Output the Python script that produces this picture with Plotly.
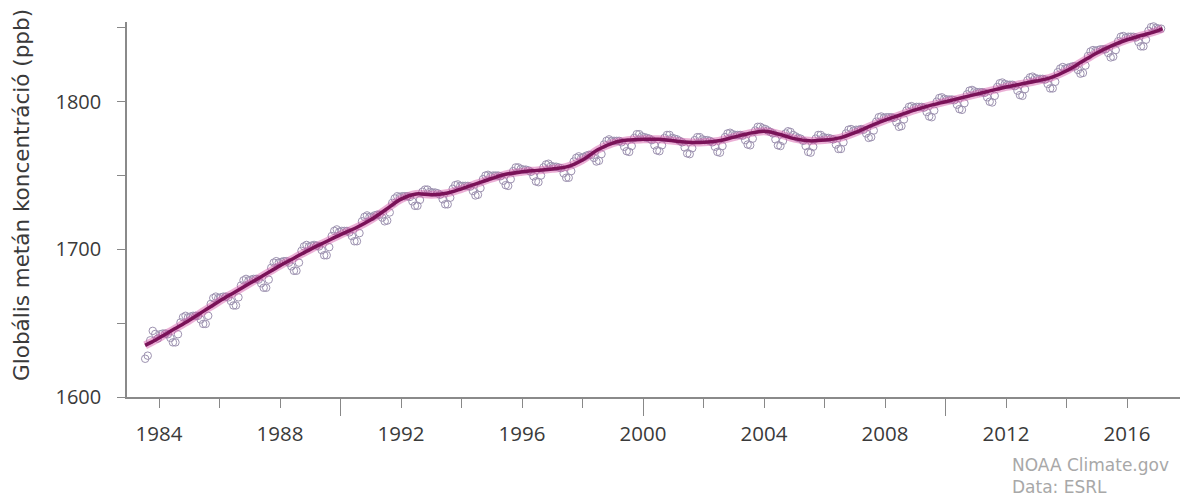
import plotly.graph_objects as go

# ---------------- data ----------------
row_years = list(range(1983, 2018))
# monthly global CH4 means (ppb), Jan..Dec for each year in row_years
monthly_rows = [
    [None, None, None, None, None, None, 1625.9, 1628.0, 1638.4, 1644.8, 1642.7, 1639.6],  # 1983
    [1642.5, 1643.0, 1643.0, 1642.5, 1640.0, 1637.0, 1637.0, 1642.5, 1650.5, 1654.0, 1655.0, 1654.0],  # 1984
    [1654.5, 1655.0, 1655.0, 1655.0, 1652.5, 1649.5, 1649.5, 1655.0, 1663.0, 1667.0, 1668.0, 1667.0],  # 1985
    [1667.5, 1668.0, 1668.0, 1667.5, 1665.0, 1662.0, 1662.0, 1667.5, 1675.5, 1679.0, 1680.0, 1679.0],  # 1986
    [1679.5, 1680.0, 1680.0, 1679.5, 1677.0, 1674.0, 1674.0, 1679.5, 1687.5, 1691.0, 1692.0, 1691.0],  # 1987
    [1691.5, 1692.0, 1692.0, 1691.0, 1688.5, 1685.5, 1685.5, 1691.0, 1699.0, 1702.0, 1703.0, 1702.0],  # 1988
    [1702.5, 1703.0, 1702.5, 1702.0, 1699.5, 1696.0, 1696.0, 1701.5, 1709.0, 1712.5, 1713.5, 1712.0],  # 1989
    [1712.5, 1712.5, 1712.5, 1711.5, 1709.0, 1705.5, 1705.5, 1711.0, 1719.0, 1722.0, 1723.0, 1722.0],  # 1990
    [1722.0, 1723.0, 1723.5, 1723.5, 1721.5, 1719.0, 1719.5, 1725.0, 1731.5, 1734.5, 1736.0, 1735.5],  # 1991
    [1736.0, 1736.0, 1736.0, 1735.5, 1732.5, 1729.5, 1729.5, 1733.5, 1739.0, 1740.5, 1740.5, 1739.0],  # 1992
    [1738.5, 1738.5, 1738.0, 1737.0, 1734.0, 1730.5, 1730.5, 1735.0, 1741.0, 1743.5, 1744.0, 1743.0],  # 1993
    [1743.0, 1743.0, 1743.0, 1742.5, 1739.5, 1736.5, 1737.0, 1741.5, 1747.5, 1750.0, 1750.5, 1749.5],  # 1994
    [1750.0, 1750.0, 1750.0, 1749.5, 1746.5, 1743.5, 1743.0, 1747.5, 1753.0, 1755.5, 1755.5, 1754.5],  # 1995
    [1754.0, 1754.0, 1753.5, 1752.5, 1749.5, 1746.0, 1745.5, 1750.0, 1755.5, 1757.5, 1758.0, 1756.5],  # 1996
    [1756.0, 1756.0, 1755.5, 1755.0, 1751.5, 1748.5, 1748.5, 1753.0, 1759.5, 1762.0, 1763.0, 1762.0],  # 1997
    [1762.5, 1763.5, 1764.0, 1764.0, 1762.0, 1759.5, 1760.0, 1764.5, 1771.0, 1773.5, 1774.5, 1773.5],  # 1998
    [1773.5, 1773.5, 1773.5, 1772.5, 1769.5, 1766.5, 1766.0, 1770.0, 1775.5, 1778.0, 1778.0, 1776.5],  # 1999
    [1776.0, 1775.5, 1775.0, 1774.0, 1770.5, 1767.0, 1766.5, 1770.5, 1775.5, 1777.5, 1777.5, 1775.5],  # 2000
    [1775.0, 1774.5, 1773.5, 1772.5, 1769.0, 1765.0, 1764.5, 1768.5, 1774.0, 1776.0, 1776.0, 1774.5],  # 2001
    [1774.0, 1774.0, 1773.5, 1772.5, 1769.5, 1766.0, 1765.5, 1770.0, 1776.0, 1778.5, 1779.0, 1778.0],  # 2002
    [1777.5, 1777.5, 1777.5, 1777.0, 1774.0, 1771.0, 1770.5, 1775.0, 1780.5, 1783.0, 1783.0, 1782.0],  # 2003
    [1781.5, 1780.5, 1779.5, 1778.5, 1774.5, 1770.5, 1770.0, 1773.5, 1778.5, 1780.0, 1779.5, 1777.5],  # 2004
    [1776.5, 1775.5, 1775.0, 1773.5, 1770.0, 1766.0, 1765.5, 1769.5, 1775.0, 1777.5, 1777.5, 1776.0],  # 2005
    [1775.5, 1775.5, 1775.0, 1774.5, 1771.0, 1768.0, 1768.0, 1772.5, 1778.5, 1781.0, 1781.5, 1780.5],  # 2006
    [1781.0, 1781.0, 1781.5, 1781.0, 1778.5, 1775.5, 1776.0, 1780.5, 1786.5, 1789.5, 1790.0, 1789.0],  # 2007
    [1789.5, 1789.5, 1789.5, 1789.0, 1786.0, 1783.0, 1783.5, 1788.0, 1794.0, 1796.5, 1797.0, 1796.0],  # 2008
    [1796.5, 1796.5, 1796.5, 1796.0, 1793.0, 1790.0, 1789.5, 1794.0, 1800.0, 1802.5, 1803.0, 1802.0],  # 2009
    [1801.5, 1801.5, 1801.5, 1801.0, 1798.0, 1795.0, 1794.5, 1799.0, 1805.0, 1807.5, 1808.0, 1807.0],  # 2010
    [1806.5, 1806.5, 1806.5, 1806.0, 1803.0, 1800.0, 1799.5, 1804.0, 1810.0, 1812.5, 1813.0, 1812.0],  # 2011
    [1811.5, 1811.5, 1811.5, 1810.5, 1807.5, 1804.5, 1804.0, 1808.5, 1814.5, 1816.5, 1817.0, 1816.0],  # 2012
    [1815.5, 1815.5, 1815.5, 1815.0, 1812.0, 1809.0, 1809.0, 1813.5, 1820.0, 1822.5, 1823.5, 1822.5],  # 2013
    [1823.0, 1823.5, 1824.0, 1824.0, 1821.5, 1819.0, 1819.5, 1824.5, 1831.0, 1834.0, 1835.0, 1834.5],  # 2014
    [1835.0, 1835.5, 1835.5, 1835.5, 1833.0, 1830.0, 1830.5, 1835.0, 1841.0, 1844.0, 1844.5, 1843.5],  # 2015
    [1844.0, 1844.0, 1844.0, 1843.5, 1840.5, 1837.5, 1837.5, 1842.0, 1848.0, 1850.5, 1851.0, 1850.0],  # 2016
    [1849.5, 1849.5, None, None, None, None, None, None, None, None, None, None],              # 2017
]

# de-seasonalised trend (ppb)
trend_years = [1983.54, 1984.0, 1984.5, 1985.0, 1985.5, 1986.0, 1986.5, 1987.0, 1987.5,
               1988.0, 1988.5, 1989.0, 1989.5, 1990.0, 1990.5, 1991.0, 1991.5, 1992.0,
               1992.5, 1993.0, 1993.5, 1994.0, 1994.5, 1995.0, 1995.5, 1996.0, 1996.5,
               1997.0, 1997.5, 1998.0, 1998.5, 1999.0, 1999.5, 2000.0, 2000.5, 2001.0,
               2001.5, 2002.0, 2002.5, 2003.0, 2003.5, 2004.0, 2004.5, 2005.0, 2005.5,
               2006.0, 2006.5, 2007.0, 2007.5, 2008.0, 2008.5, 2009.0, 2009.5, 2010.0,
               2010.5, 2011.0, 2011.5, 2012.0, 2012.5, 2013.0, 2013.5, 2014.0, 2014.5,
               2015.0, 2015.5, 2016.0, 2016.5, 2017.0, 2017.17]
trend_ppb = [1635.0, 1640.0, 1646.0, 1652.0, 1658.5, 1665.0, 1671.0, 1677.0, 1683.0,
             1689.0, 1694.5, 1700.0, 1705.0, 1710.0, 1714.5, 1720.0, 1727.0, 1734.0,
             1737.5, 1737.0, 1738.0, 1741.0, 1744.5, 1748.0, 1751.0, 1752.5, 1753.5,
             1754.5, 1756.0, 1760.5, 1767.5, 1772.0, 1774.0, 1774.5, 1774.5, 1773.5,
             1772.5, 1772.5, 1773.5, 1776.0, 1778.5, 1780.0, 1778.0, 1775.0, 1773.5,
             1774.0, 1775.5, 1779.0, 1783.5, 1787.5, 1791.0, 1794.5, 1797.5, 1800.0,
             1802.5, 1805.0, 1807.5, 1810.0, 1812.0, 1814.0, 1816.5, 1821.0, 1827.0,
             1833.0, 1838.0, 1842.0, 1845.0, 1848.0, 1849.5]

x_tick_years = list(range(1984, 2017, 2))
x_tick_labels = [str(y) if (y - 1984) % 4 == 0 else "" for y in x_tick_years]
decade_ticks = [1990, 2000, 2010]
y_tick_vals = [1600, 1650, 1700, 1750, 1800, 1850]
y_tick_labels = ["1600", "", "1700", "", "1800", ""]

y_title = "Globális metán koncentráció (ppb)"
credit_text = "NOAA Climate.gov<br>Data: ESRL"

# ---------------- build figure ----------------
mx, my = [], []
for yr, row in zip(row_years, monthly_rows):
    for m, v in enumerate(row):
        if v is not None:
            mx.append(yr + (m + 0.5) / 12)
            my.append(v)

fig = go.Figure()
fig.add_trace(go.Scatter(
    x=mx, y=my, mode="markers",
    marker=dict(symbol="circle-open", size=7.5, color="#9d92b0", line=dict(width=1)),
    showlegend=False, hoverinfo="x+y"))
fig.add_trace(go.Scatter(
    x=trend_years, y=trend_ppb, mode="lines",
    line=dict(color="rgba(210,80,165,0.45)", width=8, shape="spline", smoothing=1.0),
    showlegend=False, hoverinfo="skip"))
fig.add_trace(go.Scatter(
    x=trend_years, y=trend_ppb, mode="lines",
    line=dict(color="#7a1258", width=3.5, shape="spline", smoothing=1.0),
    showlegend=False))
# invisible helper trace so the decade-tick axis is drawn
fig.add_trace(go.Scatter(
    x=decade_ticks, y=[1600] * len(decade_ticks), xaxis="x2", mode="markers",
    marker=dict(opacity=0), showlegend=False, hoverinfo="skip"))

xr = [1982.94, 2017.75]
tick_font = "Open Sans, Segoe UI, sans-serif"
annos = [
    dict(text=y_title, xref="paper", yref="paper", x=-0.0997, y=0.539,
         xanchor="center", yanchor="middle", textangle=-90, showarrow=False,
         font=dict(family="DejaVu Sans, sans-serif", size=21.5, color="#3a3a3a")),
    dict(text=credit_text, xref="paper", yref="paper", x=0.8386, y=-0.2107,
         xanchor="left", yanchor="middle", align="left", showarrow=False,
         font=dict(family="DejaVu Sans, sans-serif", size=17, color="#a8a8a8")),
]

# the page body adds an 8 px offset, so the figure is 8 px smaller and margins shifted
fig.update_layout(
    width=1185, height=491,
    margin=dict(l=119, r=13, t=14, b=102),
    paper_bgcolor="white", plot_bgcolor="white",
    font=dict(family=tick_font, color="#333"),
    xaxis=dict(
        range=xr, tickmode="array", tickvals=x_tick_years, ticktext=x_tick_labels,
        ticks="outside", ticklen=9, tickwidth=1, tickcolor="#888",
        showline=True, linecolor="#8a8a8a", linewidth=1.5,
        showgrid=False, zeroline=False, automargin=False,
        tickfont=dict(size=20.5, color="#3a3a3a"), ticklabelstandoff=9),
    xaxis2=dict(
        range=xr, overlaying="x", anchor="y", side="bottom",
        tickmode="array", tickvals=decade_ticks, showticklabels=False,
        ticks="outside", ticklen=18, tickwidth=1, tickcolor="#888",
        showline=False, showgrid=False, zeroline=False, automargin=False),
    yaxis=dict(
        range=[1600, 1854], tickmode="array", tickvals=y_tick_vals, ticktext=y_tick_labels,
        ticks="outside", ticklen=8, tickwidth=1, tickcolor="#888",
        showline=True, linecolor="#8a8a8a", linewidth=1.5,
        showgrid=False, zeroline=False, automargin=False,
        tickfont=dict(size=20, color="#3a3a3a"), ticklabelstandoff=12),
    annotations=annos,
)

fig.write_html("out.html")
